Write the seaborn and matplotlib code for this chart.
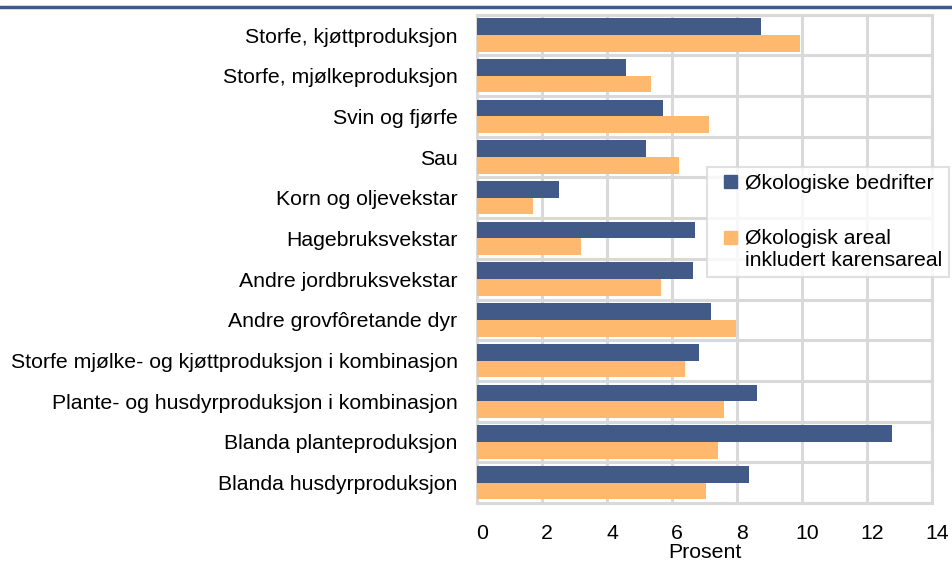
import matplotlib
matplotlib.use("Agg")
import matplotlib.pyplot as plt
from matplotlib.lines import Line2D
from matplotlib.patches import Rectangle
from matplotlib.legend_handler import HandlerPatch
from matplotlib.transforms import ScaledTranslation
import numpy as np
import pandas as pd
import seaborn as sns

categories = [
    "Storfe, kjøttproduksjon",
    "Storfe, mjølkeproduksjon",
    "Svin og fjørfe",
    "Sau",
    "Korn og oljevekstar",
    "Hagebruksvekstar",
    "Andre jordbruksvekstar",
    "Andre grovfôretande dyr",
    "Storfe mjølke- og kjøttproduksjon i kombinasjon",
    "Plante- og husdyrproduksjon i kombinasjon",
    "Blanda planteproduksjon",
    "Blanda husdyrproduksjon",
]
bedrifter = [8.74, 4.6, 5.71, 5.19, 2.53, 6.71, 6.65, 7.19, 6.83, 8.63, 12.78, 8.38]
areal = [9.95, 5.35, 7.14, 6.22, 1.73, 3.2, 5.65, 7.96, 6.4, 7.59, 7.42, 7.06]
series = ["Økologiske bedrifter", "Økologisk areal\ninkludert karensareal"]
colors = ["#415a88", "#ffb96e"]

df = pd.DataFrame({
    "kategori": categories * 2,
    "prosent": bedrifter + areal,
    "serie": [series[0]] * len(categories) + [series[1]] * len(categories),
})

sns.set_style("white")
plt.rcParams["font.family"] = ["Liberation Sans", "DejaVu Sans"]
plt.rcParams["text.color"] = "black"
plt.rcParams["xtick.color"] = "black"
plt.rcParams["ytick.color"] = "black"
plt.rcParams["axes.labelcolor"] = "black"

fs = 15.3
grid_col = "#d9d9d9"
fig = plt.figure(figsize=(9.52, 5.67), dpi=100)
ax = fig.add_axes([0.501, 0.113, 0.478, 0.861])

sns.barplot(data=df, y="kategori", x="prosent", hue="serie", orient="h",
            palette=colors, width=0.82, saturation=1,
            linewidth=0, ax=ax, legend=False, zorder=3)

ax.set_xlim(0, 14)
ax.set_ylim(len(categories) - 0.5, -0.5)
ax.set_xticks(np.arange(0, 15, 2))
ax.set_yticks(range(len(categories)))
ax.set_yticks(np.arange(-0.5, len(categories), 1), minor=True)
ax.grid(axis="x", which="major", color=grid_col, linewidth=2.2, zorder=0)
ax.grid(axis="y", which="minor", color=grid_col, linewidth=2.2, zorder=0)
ax.set_axisbelow(True)
for sp in ax.spines.values():
    sp.set_color(grid_col)
    sp.set_linewidth(2.2)

ax.tick_params(axis="y", which="both", length=0, pad=14, labelsize=fs)
ax.tick_params(axis="x", length=0, pad=15, labelsize=fs)
ax.set_xlabel("Prosent", fontsize=fs, labelpad=0)
ax.set_ylabel("")
for lab in ax.get_xticklabels():
    lab.set_transform(lab.get_transform() + ScaledTranslation(0.05, 0, fig.dpi_scale_trans))


# legend squares: sit right in the handle box, aligned to the first text line
def square(shift):
    def make(legend, orig_handle, xdescent, ydescent, width, height, fontsize):
        s = 9.4
        return Rectangle((-xdescent + width - s, -ydescent + (height - s) / 2 + shift), s, s)
    return make


handles = [Rectangle((0, 0), 1, 1, color=c) for c in colors]
leg = fig.legend(handles, series, loc="upper left", bbox_to_anchor=(0.743, 0.706),
                 fontsize=fs, frameon=True, fancybox=False, handlelength=1.05,
                 handleheight=0.7, handletextpad=0.35, labelspacing=1.7,
                 borderpad=0.35, borderaxespad=0,
                 handler_map={handles[0]: HandlerPatch(patch_func=square(0)),
                              handles[1]: HandlerPatch(patch_func=square(8.3))})
leg.get_texts()[1].set_linespacing(1.15)
leg.get_frame().set_edgecolor(grid_col)
leg.get_frame().set_linewidth(1.5)

fig.add_artist(Line2D([0, 1], [1 - 7 / 567, 1 - 7 / 567], color="#3f5a8a",
                      linewidth=2.5, transform=fig.transFigure))

fig.savefig("out.png", dpi=100)
